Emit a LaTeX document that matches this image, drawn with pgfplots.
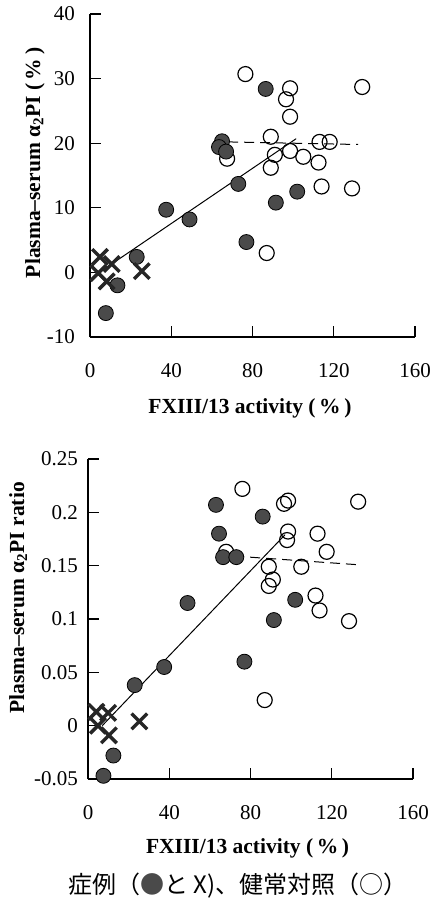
\documentclass[border=0pt]{standalone}
\usepackage{pgfplots}
\pgfplotsset{compat=1.18}
\usepackage{fontspec}
\setmainfont{Liberation Serif}
\newfontfamily\cjk{Noto Sans CJK JP}
\definecolor{dotgray}{HTML}{4A4A4A}
\pgfplotsset{
  common/.style={
    scale only axis, width=325pt,
    axis lines=left, axis line style={line width=1.1pt,-},
    tick align=inside, major tick length=11pt,
    tick style={line width=1.1pt,black},
    xmin=0, xmax=160, xtick={0,40,80,120,160},
    xticklabels={0,40,80,120,160},
    xticklabel style={anchor=base, yshift=-40pt, font=\fontsize{21}{23}\selectfont},
    yticklabel style={anchor=east, inner sep=0pt, font=\fontsize{21}{23}\selectfont},
    label style={font=\fontsize{21.5}{23}\selectfont\bfseries},
    clip=false,
  },
  filled/.style={only marks, mark=*, mark size=7.5pt, mark options={fill=dotgray, draw=black, line width=0.8pt}},
  hollow/.style={only marks, mark=o, mark size=7.5pt, mark options={draw=black, line width=1.2pt}},
  xmk/.style={only marks, mark=x, mark size=11pt, mark options={draw=black!85, line width=3.4pt}},
}
\begin{document}
\begin{tikzpicture}[x=1pt,y=1pt]
\useasboundingbox (0,0) rectangle (433,-907);
% ---------- top panel ----------
\begin{axis}[common, at={(90pt,-337pt)}, anchor=south west, height=323pt,
  ymin=-10, ymax=40, ytick={-10,0,10,20,30,40},
  yticklabels={-10,0,10,20,30,40},
  yticklabel style={xshift=-15pt},
  xlabel={FXIII/13 activity (\,\%\,)},
  xlabel style={at={(axis description cs:0.492,-0.22)}, anchor=center},
  ylabel={Plasma--serum α\textsubscript{2}PI (\,\%\,)},
  ylabel style={at={(axis description cs:-0.169,0.539)}, anchor=center},
]
\addplot[black, line width=1pt] coordinates {(6,0.3) (101.5,20.7)};
\addplot[black, line width=1pt, dash pattern=on 10pt off 6pt] coordinates {(68,20.2) (132,19.8)};
\addplot[hollow] coordinates {
(76.5,30.7) (98.5,28.5) (96.5,26.8) (98.5,24.1) (134,28.7) (89,21.0) (91,18.2)
(98.5,18.8) (89,16.2) (105,17.9) (113,20.2) (118,20.2) (112.5,17.0) (114,13.3)
(129,13.0) (67.5,17.6) (87,3.0)};
\addplot[filled] coordinates {
(37.5,9.7) (49,8.2) (65,20.3) (63.5,19.4) (67,18.7) (73,13.7) (86.5,28.4)
(91.5,10.8) (102,12.5) (77,4.7) (23,2.4) (13.5,-2.0) (7.8,-6.3)};
\addplot[xmk] coordinates {(4.9,2.4) (10.7,1.3) (4.1,-0.1) (8.2,-1.4) (25.5,0.2)};
\end{axis}
% ---------- bottom panel ----------
\begin{axis}[common, at={(88pt,-779pt)}, anchor=south west, height=320pt,
  ymin=-0.05, ymax=0.25, ytick={-0.05,0,0.05,0.1,0.15,0.2,0.25},
  yticklabels={-0.05,0,0.05,0.1,0.15,0.2,0.25},
  yticklabel style={xshift=-10pt},
  xlabel={FXIII/13 activity (\,\%\,)},
  xlabel style={at={(axis description cs:0.491,-0.216)}, anchor=center},
  ylabel={Plasma--serum α\textsubscript{2}PI ratio},
  ylabel style={at={(axis description cs:-0.215,0.566)}, anchor=center},
]
\addplot[black, line width=1pt] coordinates {(7,0.0) (97,0.179)};
\addplot[black, line width=1pt, dash pattern=on 10pt off 6pt] coordinates {(72,0.159) (132,0.151)};
\addplot[hollow] coordinates {
(76,0.222) (96.5,0.208) (98.5,0.211) (133,0.210) (98.5,0.182) (98,0.174) (113,0.180)
(68,0.163) (117.5,0.163) (89,0.149) (105,0.149) (91,0.137) (89,0.131) (112,0.122)
(114,0.108) (128.5,0.098) (87,0.024)};
\addplot[filled] coordinates {
(63,0.207) (64.5,0.180) (66.5,0.158) (73,0.158) (86,0.196) (49,0.115) (102,0.118)
(91.5,0.099) (77,0.060) (37.5,0.055) (23,0.038) (12.5,-0.028) (7.6,-0.047)};
\addplot[xmk] coordinates {(4.1,0.013) (9.9,0.012) (4.9,0.000) (10.3,-0.009) (25.3,0.004)};
\end{axis}
\node[anchor=center, font=\fontsize{24}{26}\selectfont\cjk] at (238,-886) {症例（{\color{dotgray}●}と X)、健常対照（○）};
\end{tikzpicture}
\end{document}
